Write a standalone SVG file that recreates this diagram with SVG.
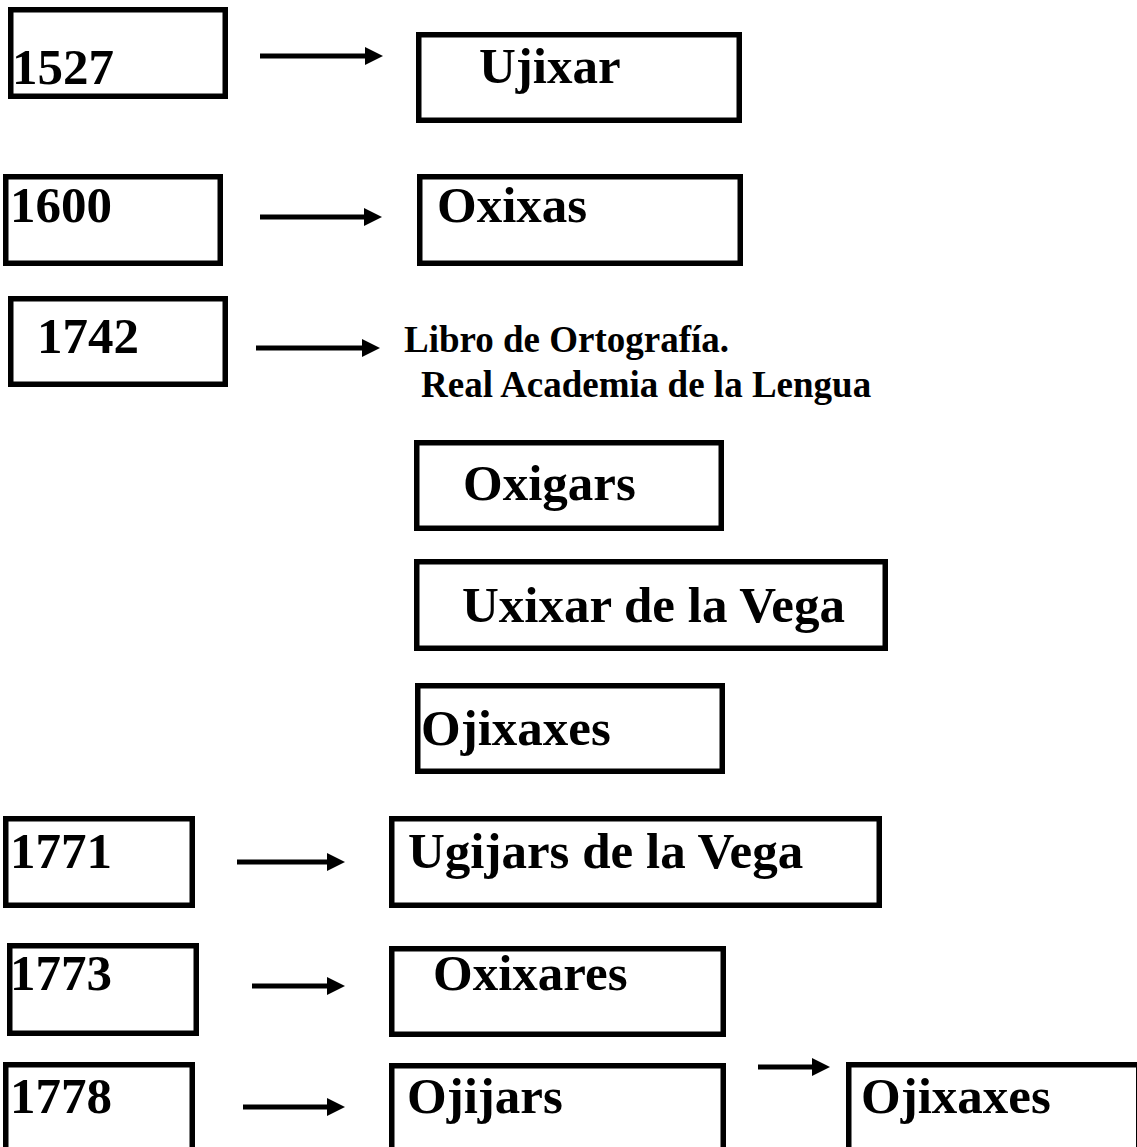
<svg xmlns="http://www.w3.org/2000/svg" width="1137" height="1147" viewBox="0 0 1137 1147">
<style>
.box{fill:#fff;stroke:#000;stroke-width:5.5}
.lbl{font-family:"Liberation Serif","Times New Roman",serif;font-weight:bold;font-size:51px;fill:#000}
.note{font-family:"Liberation Serif","Times New Roman",serif;font-weight:bold;font-size:37px;fill:#000}
.arr{stroke:#000;stroke-width:5;fill:none;marker-end:url(#ah)}
</style>
<defs>
<marker id="ah" markerUnits="userSpaceOnUse" markerWidth="20" markerHeight="20" refX="1" refY="9" orient="auto">
<path d="M0,0 L18,9 L0,18 z" fill="#000"/>
</marker>
</defs>
<rect width="1137" height="1147" fill="#fff"/>
<g id="n1527"><rect class="box" x="10.75" y="9.75" width="214.5" height="86.5"/><text class="lbl" x="12" y="84">1527</text></g>
<g id="n1600"><rect class="box" x="5.75" y="176.75" width="214.5" height="86.5"/><text class="lbl" x="10" y="222">1600</text></g>
<g id="n1742"><rect class="box" x="10.75" y="298.75" width="214.5" height="85.5"/><text class="lbl" x="37" y="353">1742</text></g>
<g id="nUjixar"><rect class="box" x="418.75" y="34.75" width="320.5" height="85.5"/><text class="lbl" x="479" y="83">Ujixar</text></g>
<g id="nOxixas"><rect class="box" x="419.75" y="176.75" width="320.5" height="86.5"/><text class="lbl" x="437" y="222">Oxixas</text></g>
<g id="nLibro"><text class="note" x="404" y="352">Libro de Ortografía.</text><text class="note" x="421" y="397">Real Academia de la Lengua</text></g>
<g id="nOxigars"><rect class="box" x="416.75" y="442.75" width="304.5" height="85.5"/><text class="lbl" x="463" y="500">Oxigars</text></g>
<g id="nUxixar"><rect class="box" x="416.75" y="561.75" width="468.5" height="86.5"/><text class="lbl" x="462" y="622">Uxixar de la Vega</text></g>
<g id="nOjixaxes1"><rect class="box" x="417.75" y="685.75" width="304.5" height="85.5"/><text class="lbl" x="421" y="745">Ojixaxes</text></g>
<g id="n1771"><rect class="box" x="5.75" y="818.75" width="186.5" height="86.5"/><text class="lbl" x="10" y="868">1771</text></g>
<g id="n1773"><rect class="box" x="9.75" y="945.75" width="186.5" height="87.5"/><text class="lbl" x="10" y="990">1773</text></g>
<g id="n1778"><rect class="box" x="5.75" y="1064.75" width="186.5" height="92"/><text class="lbl" x="10" y="1113">1778</text></g>
<g id="nUgijars"><rect class="box" x="391.75" y="818.75" width="487.5" height="86.5"/><text class="lbl" x="408" y="868">Ugijars de la Vega</text></g>
<g id="nOxixares"><rect class="box" x="391.75" y="948.75" width="331.5" height="85.5"/><text class="lbl" x="433" y="990">Oxixares</text></g>
<g id="nOjijars"><rect class="box" x="391.75" y="1065.75" width="331.5" height="92"/><text class="lbl" x="407" y="1113">Ojijars</text></g>
<g id="nOjixaxes2"><rect class="box" x="848.75" y="1064.75" width="290" height="92"/><text class="lbl" x="861" y="1113">Ojixaxes</text></g>
<g id="connectors">
<line class="arr" x1="260" y1="56" x2="366" y2="56"/>
<line class="arr" x1="260" y1="217" x2="365" y2="217"/>
<line class="arr" x1="256" y1="348" x2="363" y2="348"/>
<line class="arr" x1="237" y1="862" x2="328" y2="862"/>
<line class="arr" x1="252" y1="986" x2="328" y2="986"/>
<line class="arr" x1="243" y1="1107" x2="328" y2="1107"/>
<line class="arr" x1="758" y1="1067" x2="813" y2="1067"/>
</g>
</svg>
